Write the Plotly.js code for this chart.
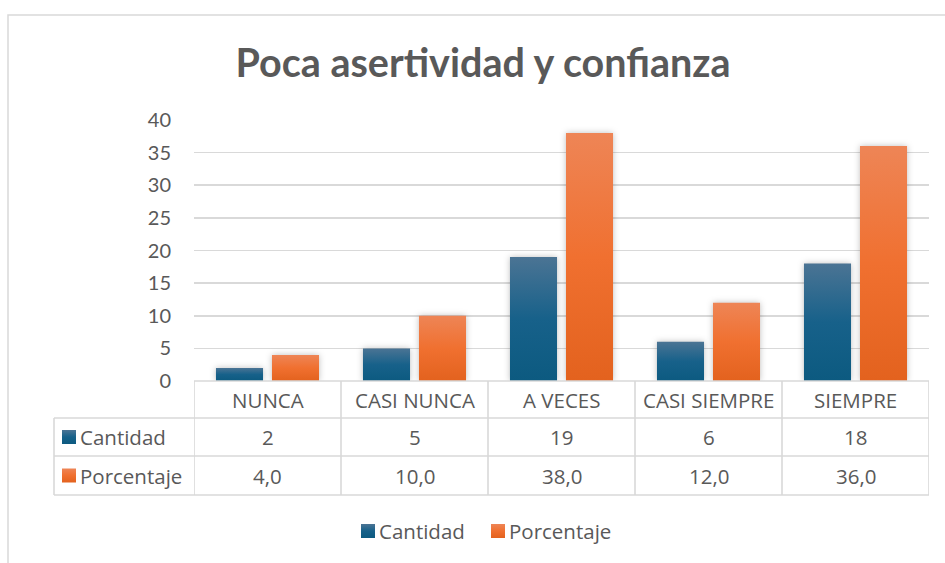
<!DOCTYPE html>
<html>
<head>
<meta charset="utf-8">
<script src="https://cdn.plot.ly/plotly-3.0.1.min.js"></script>
<style>
  html, body { margin: 0; padding: 0; background: #fff; }
  #chart { width: 945px; height: 563px; }
</style>
</head>
<body>
<div id="chart"></div>
<script>
const categories = ['NUNCA', 'CASI NUNCA', 'A VECES', 'CASI SIEMPRE', 'SIEMPRE'];
const cantidad = [2, 5, 19, 6, 18];
const porcentaje = [4.0, 10.0, 38.0, 12.0, 36.0];
const seriesNames = ['Cantidad', 'Porcentaje'];
const yTickVals = [0, 5, 10, 15, 20, 25, 30, 35, 40];
const titleText = 'Poca asertividad y confianza';

const W = 945, H = 563;
const M = { l: 194, r: 16, t: 120, b: 182 };
const PW = W - M.l - M.r, PH = H - M.t - M.b;
const blue = '#1a5f85', orange = '#ed6f2c';
const gridCol = '#d9d9d9', textCol = '#595959';
const FONT = '"Open Sans", "Noto Sans", sans-serif';
const TFONT = 'Lato, "Open Sans", sans-serif';

// pixel -> paper helpers (layout only)
const px = x => (x - M.l) / PW;
const py = y => (M.t + PH - y) / PH;

const rowsY = [381, 418, 456, 495];   // table row boundaries (px)
const tableLeft = 54;

const shapes = [];
const annotations = [];
const line = { color: gridCol, width: 1.6 };

shapes.push({ type: 'line', xref: 'paper', yref: 'paper', x0: 0, x1: 1, y0: py(rowsY[0]), y1: py(rowsY[0]), line });
for (let i = 1; i < rowsY.length; i++) {
  shapes.push({ type: 'line', xref: 'paper', yref: 'paper', x0: px(tableLeft), x1: 1, y0: py(rowsY[i]), y1: py(rowsY[i]), line });
}
shapes.push({ type: 'line', xref: 'paper', yref: 'paper', x0: px(tableLeft), x1: px(tableLeft), y0: py(rowsY[1]), y1: py(rowsY[3]), line });
for (let i = 0; i <= categories.length; i++) {
  shapes.push({ type: 'line', xref: 'x', yref: 'paper', x0: i - 0.5, x1: i - 0.5, y0: py(rowsY[0]), y1: py(rowsY[3]), line });
}

const cellFont = { family: FONT, size: 20.5, color: textCol };
const mid = (a, b) => py((a + b) / 2);

categories.forEach((c, i) => {
  annotations.push({ x: i, xref: 'x', y: mid(rowsY[0], rowsY[1]), yref: 'paper', text: c, showarrow: false, font: cellFont, xanchor: 'center', yanchor: 'middle' });
  annotations.push({ x: i, xref: 'x', y: mid(rowsY[1], rowsY[2]), yref: 'paper', text: String(cantidad[i]), showarrow: false, font: cellFont, xanchor: 'center', yanchor: 'middle' });
  annotations.push({ x: i, xref: 'x', y: mid(rowsY[2], rowsY[3]), yref: 'paper', text: porcentaje[i].toFixed(1).replace('.', ','), showarrow: false, font: cellFont, xanchor: 'center', yanchor: 'middle' });
});

const keyShapeIdx = [];
function key(x0, cy, col) {
  keyShapeIdx.push(shapes.length);
  shapes.push({ type: 'rect', xref: 'paper', yref: 'paper', x0: px(x0), x1: px(x0 + 14), y0: py(cy + 7), y1: py(cy - 7), fillcolor: col, line: { width: 0 } });
}
[[seriesNames[0], blue, 1], [seriesNames[1], orange, 2]].forEach(([name, col, r]) => {
  const cy = (rowsY[r] + rowsY[r + 1]) / 2;
  key(62, cy, col);
  annotations.push({ x: px(78), xref: 'paper', y: py(cy), yref: 'paper', text: name, showarrow: false, font: cellFont, xanchor: 'left', yanchor: 'middle' });
});

const legY = 531;
[[seriesNames[0], blue, 361], [seriesNames[1], orange, 491]].forEach(([name, col, x0]) => {
  key(x0, legY, col);
  annotations.push({ x: px(x0 + 16), xref: 'paper', y: py(legY), yref: 'paper', text: name, showarrow: false, font: cellFont, xanchor: 'left', yanchor: 'middle' });
});

shapes.push({ type: 'rect', xref: 'paper', yref: 'paper', x0: px(8), x1: px(W + 20), y0: py(H + 20), y1: py(15), line: { color: gridCol, width: 1.5 }, fillcolor: 'rgba(0,0,0,0)' });

const data = [
  { type: 'bar', name: seriesNames[0], x: categories, y: cantidad, marker: { color: blue }, hoverinfo: 'none' },
  { type: 'bar', name: seriesNames[1], x: categories, y: porcentaje, marker: { color: orange }, hoverinfo: 'none' }
];

const layout = {
  width: W, height: H,
  margin: M,
  paper_bgcolor: '#fff', plot_bgcolor: '#fff',
  font: { family: FONT, color: textCol },
  title: { text: '<b>' + titleText + '</b>', font: { family: TFONT, size: 39.5, color: textCol }, x: 483 / W, xref: 'container', xanchor: 'center', y: 1 - 63 / H, yanchor: 'middle' },
  barmode: 'group', bargap: 0.238, bargroupgap: 0.16,
  xaxis: { type: 'category', showticklabels: false, showgrid: false, zeroline: false, showline: false, ticks: '', range: [-0.5, categories.length - 0.5] },
  yaxis: { range: [0, 40], tickvals: yTickVals, showgrid: true, gridcolor: gridCol, gridwidth: 1.6, zeroline: false, showline: false, ticks: '', ticklabelstandoff: 22, tickfont: { family: TFONT, size: 20, color: textCol } },
  showlegend: false,
  shapes, annotations
};

Plotly.newPlot('chart', data, layout, { staticPlot: true, displayModeBar: false }).then(gd => {
  const svg = gd.querySelector('.main-svg');
  const NS = 'http://www.w3.org/2000/svg';
  let defs = svg.querySelector('defs');
  if (!defs) { defs = document.createElementNS(NS, 'defs'); svg.insertBefore(defs, svg.firstChild); }
  const mk = (id, stops) => {
    const g = document.createElementNS(NS, 'linearGradient');
    g.setAttribute('id', id); g.setAttribute('x1', '0'); g.setAttribute('y1', '0'); g.setAttribute('x2', '0'); g.setAttribute('y2', '1');
    stops.forEach(([o, c]) => { const s = document.createElementNS(NS, 'stop'); s.setAttribute('offset', o); s.setAttribute('stop-color', c); g.appendChild(s); });
    defs.appendChild(g);
  };
  mk('gBlue', [['0', '#4b7494'], ['0.5', '#17618a'], ['1', '#0c5a80']]);
  mk('gOrange', [['0', '#ee8556'], ['0.5', '#f07030'], ['1', '#e3621e']]);
  const ids = ['gBlue', 'gOrange'];
  gd.querySelectorAll('.barlayer .trace').forEach((t, i) => {
    t.querySelectorAll('path').forEach(p => {
      p.style.fill = 'url(#' + ids[i] + ')';
      p.style.filter = 'drop-shadow(0px 0px 3px rgba(0,0,0,0.25))';
    });
  });
  const all = Array.from(new Set(gd.querySelectorAll('.shapelayer path')));
  keyShapeIdx.forEach((si, k) => {
    const p = all.find(el => el.getAttribute('data-index') == String(si));
    if (p) p.style.fill = 'url(#' + ids[k % 2] + ')';
  });
});
</script>
</body>
</html>
